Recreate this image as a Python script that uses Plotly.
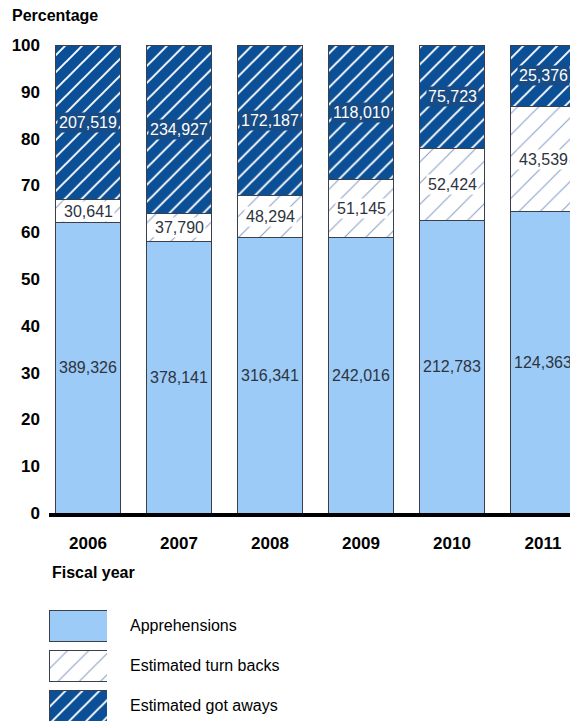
import plotly.graph_objects as go

years = ["2006", "2007", "2008", "2009", "2010", "2011"]
apprehensions = [389326, 378141, 316341, 242016, 212783, 124363]
turn_backs = [30641, 37790, 48294, 51145, 52424, 43539]
got_aways = [207519, 234927, 172187, 118010, 75723, 25376]
series_names = ["Apprehensions", "Estimated turn backs", "Estimated got aways"]
legend_unit = [1, 1, 1]

W, H = 570, 721
ML, MR, MT, MB = 49, 0, 45, 0
PW, PH = W - ML - MR, H - MT - MB
AXIS_PX = 513

def px_x(p):
    return (p - ML) / PW

def px_y(p):
    return (H - MB - p) / PH

totals = [a + t + g for a, t, g in zip(apprehensions, turn_backs, got_aways)]
pct_app = [a / s * 100 for a, s in zip(apprehensions, totals)]
pct_tb = [t / s * 100 for t, s in zip(turn_backs, totals)]
pct_ga = [g / s * 100 for g, s in zip(got_aways, totals)]

LIGHT = "#9dcbf7"
DARK = "#0b4f96"
LABEL_DARK = "#174c86"
EDGE = "#3a3f4a"
HATCH_LIGHT = "#8aa0c6"
FONT = "Liberation Sans, Arial, sans-serif"

fig = go.Figure()

styles = [
    dict(color=LIGHT, pattern=dict(shape="")),
    dict(color="white", pattern=dict(shape="/", fgcolor=HATCH_LIGHT, bgcolor="white",
                                      size=15, solidity=0.07, fillmode="replace")),
    dict(color=DARK, pattern=dict(shape="/", fgcolor="white", bgcolor=DARK,
                                   size=12, solidity=0.16, fillmode="replace")),
]

idx = list(range(len(years)))

for name, vals, st in zip(series_names, [pct_app, pct_tb, pct_ga], styles):
    fig.add_trace(go.Bar(
        x=idx, y=vals, name=name, width=0.725,
        marker=dict(color=st["color"], pattern=st["pattern"],
                    line=dict(color=EDGE, width=1)),
        showlegend=False, hoverinfo="skip",
        xaxis="x", yaxis="y",
    ))

# legend swatches as a small horizontal bar subplot
for name, st, u in zip(series_names, styles, legend_unit):
    fig.add_trace(go.Bar(
        y=[name], x=[u], orientation="h", width=0.775,
        marker=dict(color=st["color"], pattern=st["pattern"],
                    line=dict(color=EDGE, width=1)),
        showlegend=False, hoverinfo="skip",
        xaxis="x2", yaxis="y2",
    ))

annotations = []
for i in idx:
    a, t, g = pct_app[i], pct_tb[i], pct_ga[i]
    annotations.append(dict(x=i, y=a / 2, xref="x", yref="y", text=f"{apprehensions[i]:,}",
                            showarrow=False, font=dict(family=FONT, size=16, color="#2d3440")))
    annotations.append(dict(x=i, y=a + t / 2, xref="x", yref="y", text=f"{turn_backs[i]:,}",
                            showarrow=False, bgcolor="white", borderpad=1,
                            font=dict(family=FONT, size=16, color="#2d3440")))
    annotations.append(dict(x=i, y=a + t + g / 2, xref="x", yref="y", text=f"{got_aways[i]:,}",
                            showarrow=False, bgcolor=LABEL_DARK, borderpad=1,
                            font=dict(family=FONT, size=16, color="white")))

annotations.append(dict(x=px_x(10), y=px_y(16), xref="paper", yref="paper", text="<b>Percentage</b>",
                        showarrow=False, xanchor="left", yanchor="middle",
                        font=dict(family=FONT, size=16, color="black")))
annotations.append(dict(x=px_x(50), y=px_y(572), xref="paper", yref="paper", text="<b>Fiscal year</b>",
                        showarrow=False, xanchor="left", yanchor="middle",
                        font=dict(family=FONT, size=16, color="black")))

main_bottom = px_y(AXIS_PX)
leg_top = px_y(605.5)
leg_rows = (H - 605.5) / 40 - 0.5
# x range so that category 0 is centered at px 88 with a 91px period
r0 = -(88 - ML) / 91
r1 = r0 + PW / 91

fig.update_layout(
    width=W, height=H,
    margin=dict(l=ML, r=MR, t=MT, b=MB, pad=0, autoexpand=False),
    paper_bgcolor="white", plot_bgcolor="white",
    barmode="stack", bargap=0.275,
    font=dict(family=FONT, color="black"),
    annotations=annotations,
    xaxis=dict(domain=[0, 1], anchor="y", range=[r0, r1], automargin=False,
               tickmode="array", tickvals=idx, ticktext=years,
               showgrid=False, zeroline=False, showline=True, linecolor="black", linewidth=4,
               ticks="", tickfont=dict(family=FONT, size=17, color="black", weight="bold"),
               ticklabelstandoff=12),
    yaxis=dict(domain=[main_bottom, 1], anchor="x", range=[0, 100], dtick=10, automargin=False,
               showgrid=False, zeroline=False, showline=False, ticks="",
               tickfont=dict(family=FONT, size=17, color="black", weight="bold"),
               ticklabelstandoff=8),
    xaxis2=dict(domain=[0, px_x(107)], anchor="y2", range=[0, 1], automargin=False,
                visible=False, fixedrange=True),
    yaxis2=dict(domain=[0, leg_top], anchor="x2", type="category", side="right",
                automargin=False,
                range=[leg_rows, -0.5], showgrid=False, zeroline=False, showline=False,
                ticks="", ticklabelstandoff=22,
                tickfont=dict(family=FONT, size=16, color="black")),
)

fig.write_html(
    "out.html",
    config={"displayModeBar": False},
    post_script="document.body.style.margin='0';document.body.style.overflow='hidden';",
)
